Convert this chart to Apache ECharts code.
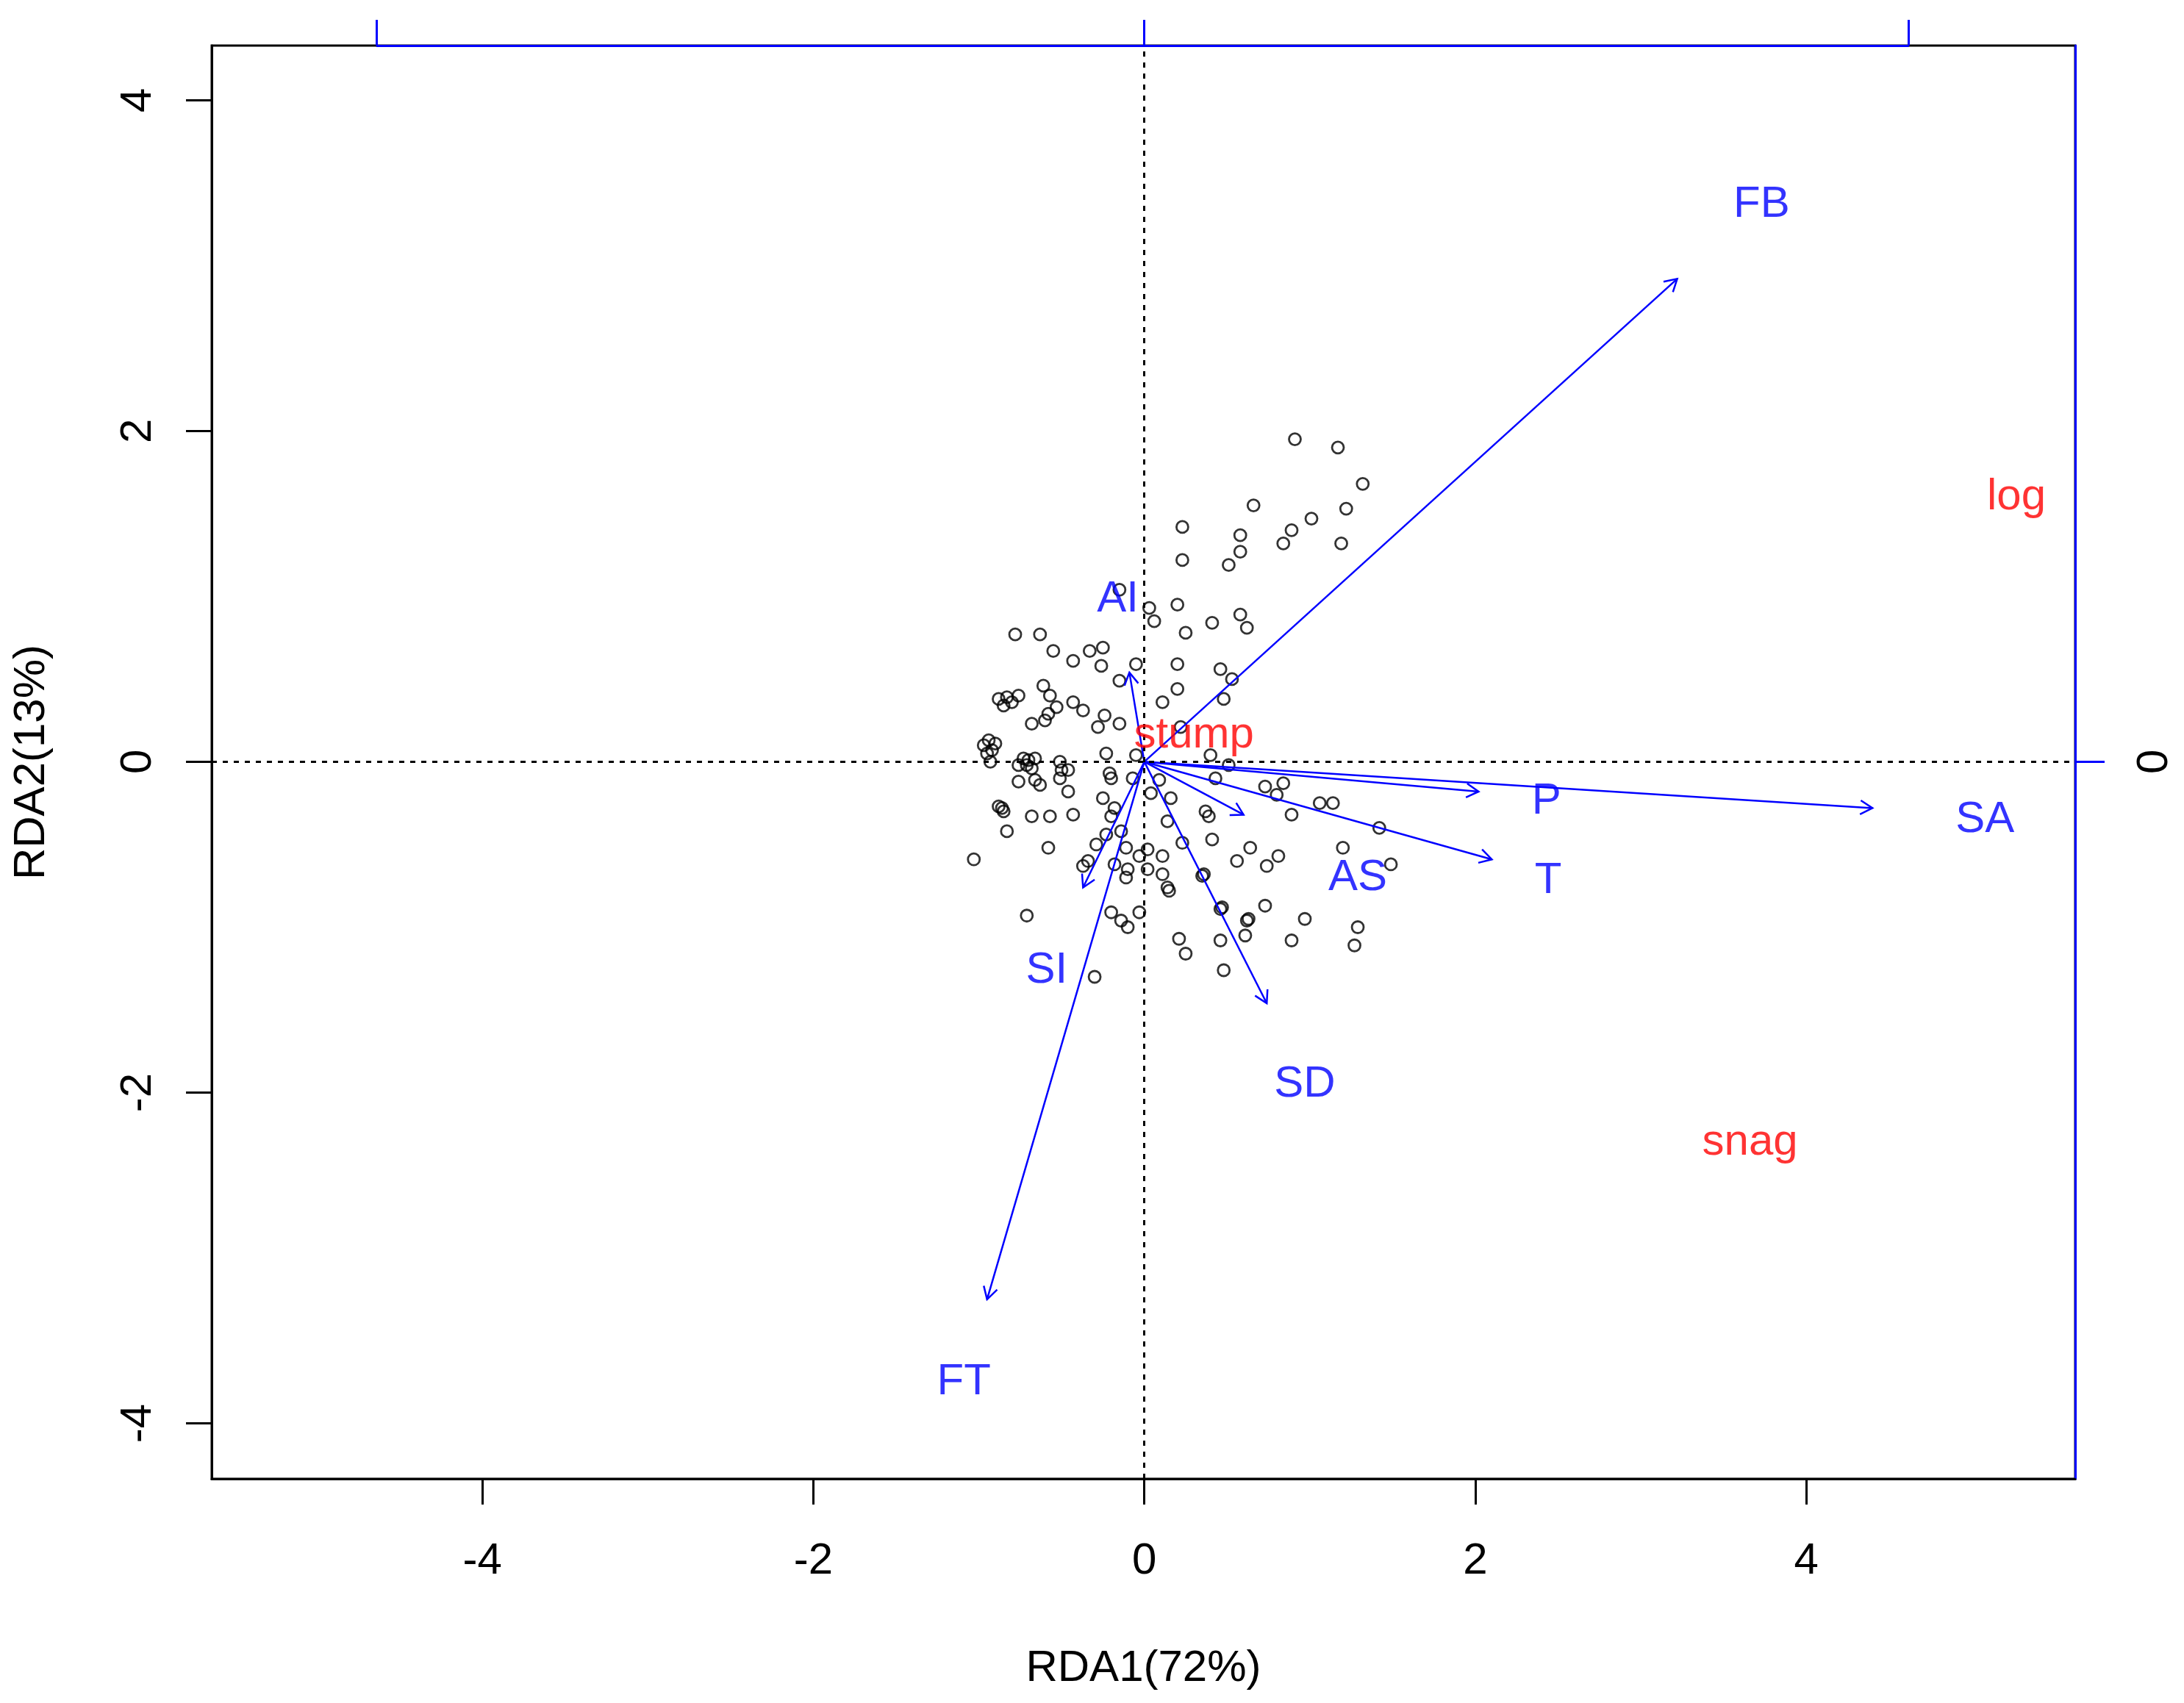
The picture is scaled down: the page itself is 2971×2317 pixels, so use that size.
<!DOCTYPE html>
<html>
<head>
<meta charset="utf-8">
<title>RDA biplot</title>
<script src="https://cdn.jsdelivr.net/npm/echarts@6/dist/echarts.min.js"></script>
<style>
  html, body { margin: 0; padding: 0; background: #fff; }
  #main { width: 2971px; height: 2317px; }
</style>
</head>
<body>
<div id="main"></div>
<script>
// site scores (open circles)
var siteX = [
  0.91, 1.17, 1.32, 0.66, 1.22, 1.01, 0.89, 0.84, 1.19,
  0.23, 0.58, 0.58, 0.51, 0.23,
  0.20, 0.41, 0.58, 0.62, 0.25, 0.03, 0.06, -0.15,
  0.20, 0.20, 0.46, 0.53, 0.48, 0.11, 0.22, 0.40, 0.51,
  -0.78, -0.63, -0.55, -0.43, -0.33, -0.25, -0.26, -0.05, -0.15,
  -0.61, -0.57, -0.53, -0.58, -0.60, -0.68, -0.43, -0.37, -0.24, -0.28, -0.15,
  -0.88, -0.83, -0.85, -0.80, -0.76,
  -0.94, -0.92, -0.93, -0.97, -0.95, -0.90,
  -0.73, -0.70, -0.66, -0.71, -0.51, -0.46, -0.23, -0.05, -0.21,
  -0.76, -0.66, -0.51, -0.07, 0.09,
  -0.76, -0.68, -0.63, -0.50, -0.46, -0.20, 0.04, 0.16, 0.14,
  -0.25, -0.18, -0.20, -0.88, -0.85, -0.86,
  -0.68, -0.57, -0.43, -0.83, -0.58, -1.03, -0.23, -0.14, -0.29, -0.34, -0.37,
  -0.11, -0.03, 0.02, 0.11, -0.18, -0.10, -0.11, 0.02, 0.11, 0.15, 0.14,
  -0.20, -0.14, -0.10, -0.03, -0.71, -0.30,
  0.43, 0.73, 0.84, 0.80, 0.89, 1.06, 1.14, 1.42, 0.37, 0.39, 0.41, 0.23,
  0.64, 0.56, 0.81, 0.74, 1.20, 1.49, 0.35, 0.36, 0.46, 0.47, 0.62, 0.63, 0.61,
  0.73, 0.97, 1.29, 1.27, 0.21, 0.25, 0.46, 0.89, 0.48
];
var siteY = [
  1.95, 1.90, 1.68, 1.55, 1.53, 1.47, 1.40, 1.32, 1.32,
  1.42, 1.37, 1.27, 1.19, 1.22,
  0.95, 0.84, 0.89, 0.81, 0.78, 0.93, 0.85, 1.04,
  0.59, 0.44, 0.56, 0.50, 0.38, 0.36, 0.21, 0.04, -0.02,
  0.77, 0.77, 0.67, 0.61, 0.67, 0.69, 0.58, 0.59, 0.49,
  0.46, 0.40, 0.33, 0.29, 0.25, 0.23, 0.36, 0.31, 0.28, 0.21, 0.23,
  0.38, 0.39, 0.34, 0.36, 0.40,
  0.13, 0.07, 0.00, 0.10, 0.05, 0.11,
  0.02, 0.01, 0.02, -0.02, 0.00, -0.05, 0.05, 0.04, -0.07,
  -0.12, -0.11, -0.10, -0.10, -0.11,
  -0.02, -0.04, -0.14, -0.05, -0.18, -0.10, -0.19, -0.22, -0.36,
  -0.22, -0.28, -0.33, -0.27, -0.30, -0.28,
  -0.33, -0.33, -0.32, -0.42, -0.52, -0.59, -0.44, -0.42, -0.50, -0.60, -0.63,
  -0.52, -0.57, -0.53, -0.57, -0.62, -0.65, -0.70, -0.65, -0.68, -0.78, -0.76,
  -0.91, -0.96, -1.00, -0.91, -0.93, -1.30,
  -0.10, -0.15, -0.13, -0.20, -0.32, -0.25, -0.25, -0.40, -0.30, -0.33, -0.47, -0.49,
  -0.52, -0.60, -0.57, -0.63, -0.52, -0.62, -0.69, -0.68, -0.89, -0.88, -0.96, -0.95, -1.05,
  -0.87, -0.95, -1.00, -1.11, -1.07, -1.16, -1.08, -1.08, -1.26
];

// environmental arrows
var vecNames = ['FB', 'SA', 'P', 'T', 'AS', 'SD', 'SI', 'FT', 'AI'];
var vecX = [3.22, 4.40, 2.02, 2.10, 0.60, 0.74, -0.37, -0.95, -0.09];
var vecY = [2.92, -0.28, -0.18, -0.59, -0.32, -1.46, -0.76, -3.25, 0.54];
var vecLabX = [3.73, 5.08, 2.43, 2.44, 1.29, 0.97, -0.59, -1.09, -0.16];
var vecLabY = [3.37, -0.35, -0.24, -0.72, -0.70, -1.95, -1.26, -3.75, 0.98];

// factor centroids
var cenNames = ['log', 'snag', 'stump'];
var cenX = [5.27, 3.66, 0.30];
var cenY = [1.60, -2.30, 0.16];

var tickVals = [-4, -2, 0, 2, 4];
var topTicks = [-4.64, 0, 4.62];

var xMin = -5.635, xMax = 5.625;
var yMin = -4.335, yMax = 4.33;

var chart = echarts.init(document.getElementById('main'));

var sites = siteX.map(function (x, i) { return [x, siteY[i]]; });
var vecs = vecX.map(function (x, i) { return [x, vecY[i]]; });
var vecLabs = vecNames.map(function (n, i) { return { name: n, value: [vecLabX[i], vecLabY[i]] }; });
var cens = cenNames.map(function (n, i) { return { name: n, value: [cenX[i], cenY[i]] }; });

var blue = '#0000ff';

var option = {
  backgroundColor: '#fff',
  animation: false,
  textStyle: { fontFamily: 'Liberation Sans, Arial, sans-serif' },
  grid: {
    left: 288, right: 148, top: 62, bottom: 305,
    show: true, borderColor: '#000', borderWidth: 3, backgroundColor: 'transparent'
  },
  xAxis: [
    {
      type: 'value', position: 'bottom', min: xMin, max: xMax,
      splitLine: { show: false },
      axisLine: { show: true, onZero: false, lineStyle: { color: '#000', width: 3 } },
      axisTick: { show: true, length: 35, customValues: tickVals, lineStyle: { color: '#000', width: 3 } },
      axisLabel: { customValues: tickVals, fontSize: 60, color: '#000', margin: 82 },
      name: 'RDA1(72%)', nameLocation: 'middle', nameGap: 228,
      nameTextStyle: { fontSize: 60, color: '#000' }
    },
    {
      type: 'value', position: 'top', min: xMin, max: xMax,
      splitLine: { show: false },
      axisLine: { show: false, onZero: false },
      axisTick: { show: true, length: 35, customValues: topTicks, lineStyle: { color: blue, width: 3 } },
      axisLabel: { show: false }
    }
  ],
  yAxis: [
    {
      type: 'value', position: 'left', min: yMin, max: yMax,
      splitLine: { show: false },
      axisLine: { show: true, onZero: false, lineStyle: { color: '#000', width: 3 } },
      axisTick: { show: true, length: 35, customValues: tickVals, lineStyle: { color: '#000', width: 3 } },
      axisLabel: { customValues: tickVals, fontSize: 60, color: '#000', rotate: 90, margin: 70 },
      name: 'RDA2(13%)', nameLocation: 'middle', nameRotate: 90, nameGap: 215,
      nameTextStyle: { fontSize: 60, color: '#000' }
    },
    {
      type: 'value', position: 'right', min: yMin, max: yMax,
      splitLine: { show: false },
      axisLine: { show: true, onZero: false, lineStyle: { color: blue, width: 3 } },
      axisTick: { show: true, length: 40, customValues: [0], lineStyle: { color: blue, width: 3 } },
      axisLabel: { customValues: [0], fontSize: 60, color: '#000', rotate: 90, margin: 78 }
    }
  ],
  series: [
    {
      type: 'scatter',
      data: sites,
      symbol: 'circle',
      symbolSize: 16,
      itemStyle: { color: 'rgba(0,0,0,0)', borderColor: '#000', borderWidth: 2.8 },
      z: 3,
      markLine: {
        silent: true,
        symbol: ['none', 'none'],
        label: { show: false },
        lineStyle: { color: '#000', width: 3, type: [7, 8] },
        data: [
          { xAxis: 0 },
          { yAxis: 0 },
          [
            { coord: [topTicks[0], yMax], lineStyle: { color: blue, width: 3, type: 'solid' } },
            { coord: [topTicks[2], yMax] }
          ]
        ]
      }
    },
    {
      type: 'custom',
      data: vecs,
      z: 4,
      encode: { x: 0, y: 1 },
      renderItem: function (params, api) {
        var p0 = api.coord([0, 0]);
        var p1 = api.coord([api.value(0), api.value(1)]);
        var ang = Math.atan2(p1[1] - p0[1], p1[0] - p0[0]);
        var h = 19, a = Math.PI / 6;
        var l = [p1[0] - h * Math.cos(ang - a), p1[1] - h * Math.sin(ang - a)];
        var r = [p1[0] - h * Math.cos(ang + a), p1[1] - h * Math.sin(ang + a)];
        return {
          type: 'group',
          children: [
            { type: 'line', shape: { x1: p0[0], y1: p0[1], x2: p1[0], y2: p1[1] },
              style: { stroke: blue, lineWidth: 2.5 } },
            { type: 'polyline', shape: { points: [l, p1, r] },
              style: { stroke: blue, fill: null, lineWidth: 2.5 } }
          ]
        };
      }
    },
    {
      type: 'scatter',
      data: vecLabs,
      symbolSize: 1,
      itemStyle: { color: 'rgba(0,0,0,0)' },
      z: 5,
      label: { show: true, position: 'inside', formatter: '{b}', fontSize: 60, color: blue }
    },
    {
      type: 'scatter',
      data: cens,
      symbolSize: 1,
      itemStyle: { color: 'rgba(0,0,0,0)' },
      z: 5,
      label: { show: true, position: 'inside', formatter: '{b}', fontSize: 60, color: '#ff0000' }
    }
  ]
};

chart.setOption(option);
</script>
</body>
</html>
